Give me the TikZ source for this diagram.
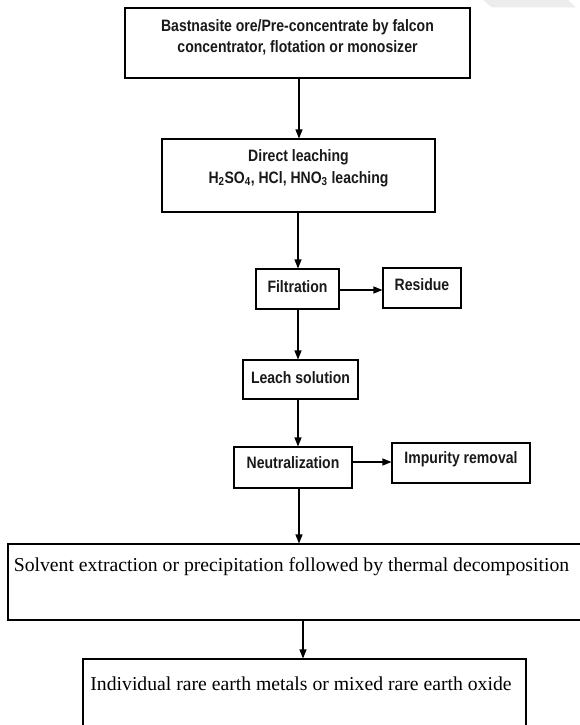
\documentclass[tikz,border=0pt]{standalone}
\usepackage{fontspec}
\setmainfont{Liberation Serif}
\newfontfamily\hdr[FakeStretch=0.85]{Liberation Sans}
\usetikzlibrary{arrows.meta,calc}
\begin{document}
\begin{tikzpicture}[x=1pt,y=-1pt,
 box/.style={draw=black,line width=1.1pt,rectangle,inner sep=0pt},
 lab/.style={font=\hdr\bfseries\fontsize{16.5}{21}\selectfont,align=center,inner sep=0pt,text=black!90},
 slab/.style={font=\fontsize{19.7}{24}\selectfont,inner sep=0pt,text=black},
 arr/.style={line width=1.1pt,-{Triangle[length=9pt,width=7pt]}}]
\useasboundingbox (0,0) rectangle (580,725);
\clip (0,0) rectangle (580,725);
\fill[gray!15] (483,0) -- (492,7.5) -- (576,7.5) -- (568,0) -- cycle;
% boxes
\node[box,minimum width=345pt,minimum height=70pt] (b1) at (297.5,43) {};
\node[box,minimum width=273pt,minimum height=73pt] (b2) at (298.5,175.5) {};
\node[box,minimum width=83pt,minimum height=40pt] (filt) at (297.5,289) {};
\node[box,minimum width=78pt,minimum height=40pt] (res) at (422,288) {};
\node[box,minimum width=115pt,minimum height=39pt] (leach) at (300.5,379.5) {};
\node[box,minimum width=118pt,minimum height=41pt] (neut) at (293,467.5) {};
\node[box,minimum width=138pt,minimum height=40pt] (imp) at (461,463) {};
\node[box,minimum width=592pt,minimum height=76pt] (solv) at (304,582) {};
\node[box,minimum width=443pt,minimum height=101pt] (fin) at (304.5,709.5) {};
% texts
\node[lab] (t1) at (297.5,37) {Bastnasite ore/Pre-concentrate by falcon\\concentrator, flotation or monosizer};
\node[lab] (t2) at (298.5,168) {Direct leaching\\[1pt]H\textsubscript{2}SO\textsubscript{4}, HCl, HNO\textsubscript{3} leaching};
\node[lab] (t3) at (297.5,287) {Filtration};
\node[lab] (t4) at (422,285) {Residue};
\node[lab] (t5) at (300.5,378) {Leach solution};
\node[lab] (t6) at (293,463) {Neutralization};
\node[lab] (t7) at (461,459) {Impurity removal};
\node[slab] (t8) at (291.5,567) {Solvent extraction or precipitation followed by thermal decomposition};
\node[slab] (t9) at (301,684) {Individual rare earth metals or mixed rare earth oxide};
% arrows
\coordinate (xa) at (299,0);
\coordinate (xb) at (298,0);
\coordinate (xc) at (303,0);
\coordinate (yf) at (0,290);
\coordinate (yn) at (0,462);
\draw[arr] (b1.south -| xa) -- (b2.north -| xa);
\draw[arr] (b2.south -| xb) -- (filt.north -| xb);
\draw[arr] (filt.south -| xb) -- (leach.north -| xb);
\draw[arr] (leach.south -| xb) -- (neut.north -| xb);
\draw[arr] (neut.south -| xa) -- (solv.north -| xa);
\draw[arr] (solv.south -| xc) -- (fin.north -| xc);
\draw[arr] (filt.east |- yf) -- (res.west |- yf);
\draw[arr] (neut.east |- yn) -- (imp.west |- yn);
\end{tikzpicture}
\end{document}
